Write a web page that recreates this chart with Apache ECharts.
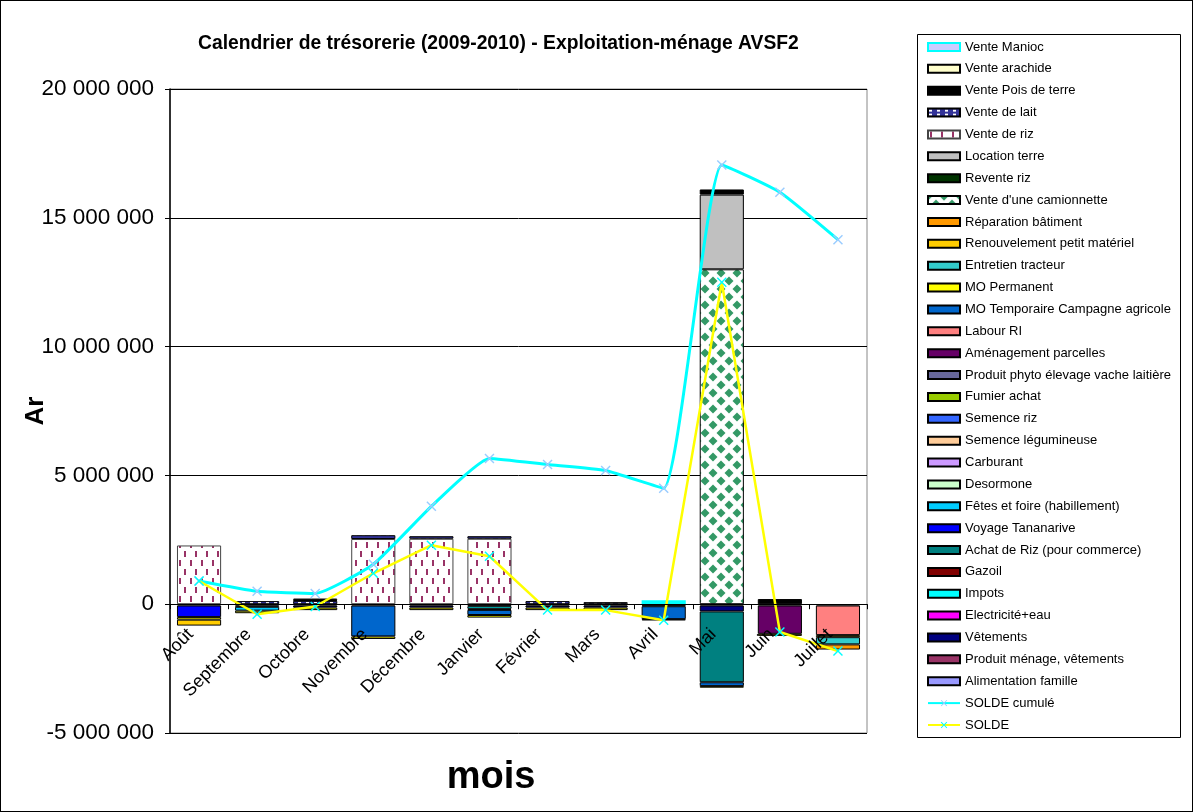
<!DOCTYPE html>
<html>
<head>
<meta charset="utf-8">
<script src="https://cdn.jsdelivr.net/npm/echarts@6/dist/echarts.min.js"></script>
<style>
html,body{margin:0;padding:0;background:#fff;}
#wrap{width:1193px;height:812px;box-sizing:border-box;border:1px solid #000;position:relative;}
#chart{width:1191px;height:810px;}
</style>
</head>
<body>
<div id="wrap"><div id="chart"></div></div>
<script>
// ---------- DATA ----------
const categories = ['Août','Septembre','Octobre','Novembre','Décembre','Janvier','Février','Mars','Avril','Mai','Juin','Juillet'];
const yTicks = [-5000000, 0, 5000000, 10000000, 15000000, 20000000];

const venteManioc      = [null,null,null,null,null,null,null,null,150000,null,null,null];
const venteArachide    = [null,null,60000,null,null,null,null,null,null,null,null,null];
const ventePoisTerre   = [null,null,30000,null,null,null,null,null,null,200000,200000,null];
const venteLait        = [null,120000,130000,150000,100000,100000,120000,80000,null,null,null,null];
const venteRiz         = [2280000,null,null,2530000,2540000,2540000,null,null,null,null,null,null];
const locationTerre    = [null,null,null,null,null,null,null,null,null,2900000,null,null];
const reventeRiz       = [null,null,null,null,null,null,null,null,null,null,null,null];
const venteCamionnette = [null,null,null,null,null,null,null,null,null,13000000,null,null];
const reparationBat    = [null,null,null,null,null,null,null,null,null,null,null,-200000];
const renouvMateriel   = [-230000,null,null,null,null,null,null,null,null,null,null,null];
const entretienTract   = [null,null,null,null,null,null,null,null,null,null,null,-280000];
const moPermanent      = [-100000,-100000,-100000,-100000,-100000,-100000,-100000,-100000,-50000,-60000,-80000,-80000];
const moTemporaire     = [null,null,null,-1200000,null,-200000,null,null,-500000,-150000,null,null];
const labourRI         = [null,null,null,null,null,null,null,null,null,null,null,-1150000];
const amenagement      = [null,null,null,null,null,null,null,null,null,null,-1100000,null];
const produitPhyto     = [null,null,null,null,null,-40000,null,null,null,null,null,null];
const fumierAchat      = [null,null,null,null,null,null,null,null,null,null,null,null];
const semenceRiz       = [null,null,null,null,null,null,null,null,null,null,null,null];
const semenceLegum     = [null,null,null,null,null,null,null,null,null,null,null,null];
const carburant        = [null,null,null,null,null,null,null,null,null,null,null,null];
const desormone        = [null,null,null,null,null,null,null,null,null,null,null,null];
const fetesFoire       = [null,-150000,null,null,null,null,null,null,null,null,null,null];
const voyageTana       = [-450000,null,null,null,null,null,null,null,null,null,null,null];
const achatRiz         = [null,null,null,null,null,null,null,null,null,-2750000,null,null];
const gazoil           = [null,null,null,null,null,null,null,null,null,null,null,null];
const impots           = [null,null,null,null,null,-100000,null,null,null,null,null,null];
const electriciteEau   = [null,null,null,null,null,null,null,null,null,null,null,null];
const vetements        = [null,-50000,-80000,null,-80000,-30000,-80000,-80000,-30000,-230000,null,null];
const produitMenage    = [-50000,-50000,-50000,-50000,-50000,-50000,-50000,-50000,-50000,-50000,-50000,-50000];
const alimentation     = [null,null,null,null,null,null,null,null,null,null,null,null];
const soldeCumule      = [900000,500000,420000,1550000,3800000,5660000,5420000,5190000,4500000,17050000,15990000,14150000];
const solde            = [900000,-390000,-90000,1200000,2290000,1860000,-230000,-230000,-620000,12500000,-1080000,-1820000];

// ---------- PATTERNS ----------
function tile(w,h,draw){const c=document.createElement('canvas');c.width=w;c.height=h;const g=c.getContext('2d');draw(g,w,h);return {image:c,repeat:'repeat'};}
const rizPattern = tile(11,18,(g,w,h)=>{g.fillStyle='#fff';g.fillRect(0,0,w,h);g.fillStyle='#993366';g.fillRect(2,1,2,6);g.fillRect(7,10,2,6);});
const camPattern = tile(16,16,(g,w,h)=>{g.fillStyle='#fff';g.fillRect(0,0,w,h);g.fillStyle='#339966';
  const d=(cx,cy,r)=>{g.beginPath();g.moveTo(cx,cy-r);g.lineTo(cx+r,cy);g.lineTo(cx,cy+r);g.lineTo(cx-r,cy);g.closePath();g.fill();};
  d(8,8,4.5);d(0,0,4.5);d(16,0,4.5);d(0,16,4.5);d(16,16,4.5);});
const laitPattern = tile(8,4,(g,w,h)=>{g.fillStyle='#333399';g.fillRect(0,0,w,h);g.fillStyle='#fff';g.fillRect(1,1,3,2);});

// ---------- SERIES (legend order) ----------
const barDefs = [
  ['Vente Manioc', venteManioc, {color:'#CCCCFF',borderColor:'#00FFFF',borderWidth:2}],
  ['Vente arachide', venteArachide, {color:'#FFFFCC'}],
  ['Vente Pois de terre', ventePoisTerre, {color:'#000000'}],
  ['Vente de lait', venteLait, {color:laitPattern}],
  ['Vente de riz', venteRiz, {color:rizPattern,borderColor:'#444'}],
  ['Location terre', locationTerre, {color:'#C0C0C0'}],
  ['Revente riz', reventeRiz, {color:'#003300'}],
  ["Vente d'une camionnette", venteCamionnette, {color:camPattern}],
  ['Réparation bâtiment', reparationBat, {color:'#FF9900'}],
  ['Renouvelement petit matériel', renouvMateriel, {color:'#FFCC00'}],
  ['Entretien tracteur', entretienTract, {color:'#33CCCC'}],
  ['MO Permanent', moPermanent, {color:'#FFFF00'}],
  ['MO Temporaire Campagne agricole', moTemporaire, {color:'#0066CC'}],
  ['Labour RI', labourRI, {color:'#FF8080'}],
  ['Aménagement parcelles', amenagement, {color:'#660066'}],
  ['Produit phyto élevage vache laitière', produitPhyto, {color:'#666699'}],
  ['Fumier achat', fumierAchat, {color:'#99CC00'}],
  ['Semence riz', semenceRiz, {color:'#3366FF'}],
  ['Semence légumineuse', semenceLegum, {color:'#FFCC99'}],
  ['Carburant', carburant, {color:'#CC99FF'}],
  ['Desormone', desormone, {color:'#CCFFCC'}],
  ['Fêtes et foire (habillement)', fetesFoire, {color:'#00CCFF'}],
  ['Voyage Tananarive', voyageTana, {color:'#0000FF'}],
  ['Achat de Riz (pour commerce)', achatRiz, {color:'#008080'}],
  ['Gazoil', gazoil, {color:'#800000'}],
  ['Impots', impots, {color:'#00FFFF'}],
  ['Electricité+eau', electriciteEau, {color:'#FF00FF'}],
  ['Vêtements', vetements, {color:'#000080'}],
  ['Produit ménage, vêtements', produitMenage, {color:'#993366'}],
  ['Alimentation famille', alimentation, {color:'#9999FF'}]
];
const legendData = barDefs.map(d=>({name:d[0],icon:'rect'})).concat([{name:'SOLDE cumulé'},{name:'SOLDE'}]);

const xPath = 'path://M0,1L1,0L5,4L9,0L10,1L6,5L10,9L9,10L5,6L1,10L0,9L4,5Z';

const series = barDefs.slice().reverse().map(([name,data,st])=>({
  name, type:'bar', stack:'tot', data, barCategoryGap:'24%',
  itemStyle:Object.assign({borderColor:'#000',borderWidth:1},st),
  emphasis:{disabled:true}
}));
series.push({name:'SOLDE cumulé',type:'line',data:soldeCumule,smooth:0.15,symbol:xPath,symbolSize:10,
  lineStyle:{color:'#00FFFF',width:3},itemStyle:{color:'#99CCFF'},z:5});
series.push({name:'SOLDE',type:'line',data:solde,symbol:xPath,symbolSize:10,
  lineStyle:{color:'#FFFF00',width:2.5},itemStyle:{color:'#00FFFF'},z:6});

const fmt = v => (v<0?'-':'') + String(Math.abs(v)).replace(/\B(?=(\d{3})+(?!\d))/g,' ');

const gridTop = 88, gridH = 644;
const zeroOffset = gridH * (0 - yTicks[0]) / (yTicks[yTicks.length-1] - yTicks[0]);

const chart = echarts.init(document.getElementById('chart'),null,{renderer:'canvas'});
chart.setOption({
  animation:false,
  textStyle:{fontFamily:'Liberation Sans, Arial, sans-serif',color:'#000'},
  title:{text:'Calendrier de trésorerie (2009-2010) - Exploitation-ménage AVSF2',left:197,top:33,padding:0,
    textStyle:{fontSize:19.3,fontWeight:'bold',color:'#000',fontFamily:'Liberation Sans, Arial, sans-serif'}},
  grid:{left:169,top:gridTop,width:697,height:gridH,show:true,borderColor:'#888',borderWidth:1,containLabel:false},
  legend:{data:legendData,orient:'vertical',left:926,top:39,padding:0,itemWidth:32,itemHeight:8,itemGap:7.87,
    textStyle:{fontSize:13,lineHeight:14,color:'#000',fontFamily:'Liberation Sans, Arial, sans-serif'},selectedMode:false},
  xAxis:{type:'category',data:categories,z:10,position:'bottom',offset:-zeroOffset,
    axisLine:{onZero:false,lineStyle:{color:'#000',width:1}},
    axisTick:{show:true,length:5,lineStyle:{color:'#000'}},
    axisLabel:{rotate:45,fontSize:18,color:'#000',margin:19,interval:0,padding:[0,12,0,0]}},
  yAxis:{type:'value',min:yTicks[0],max:yTicks[yTicks.length-1],interval:5000000,
    axisLine:{show:true,lineStyle:{color:'#000',width:1.5}},
    axisTick:{show:true,length:5,lineStyle:{color:'#000'}},
    axisLabel:{fontSize:22.5,color:'#000',margin:16,formatter:fmt},
    splitLine:{lineStyle:{color:'#000',width:1}}},
  graphic:[
    {type:'rect',shape:{x:916.5,y:33.5,width:263,height:703},style:{fill:null,stroke:'#000',lineWidth:1},z:-1},
    {type:'text',x:35,y:410,rotation:Math.PI/2,style:{text:'Ar',fontSize:26,fontWeight:'bold',fill:'#000',
      fontFamily:'Liberation Sans, Arial, sans-serif',textAlign:'center',textVerticalAlign:'middle'}},
    {type:'text',x:490,y:777,style:{text:'mois',fontSize:38,fontWeight:'bold',fill:'#000',
      fontFamily:'Liberation Sans, Arial, sans-serif',textAlign:'center',textVerticalAlign:'middle'}}
  ],
  series
});
</script>
</body>
</html>
